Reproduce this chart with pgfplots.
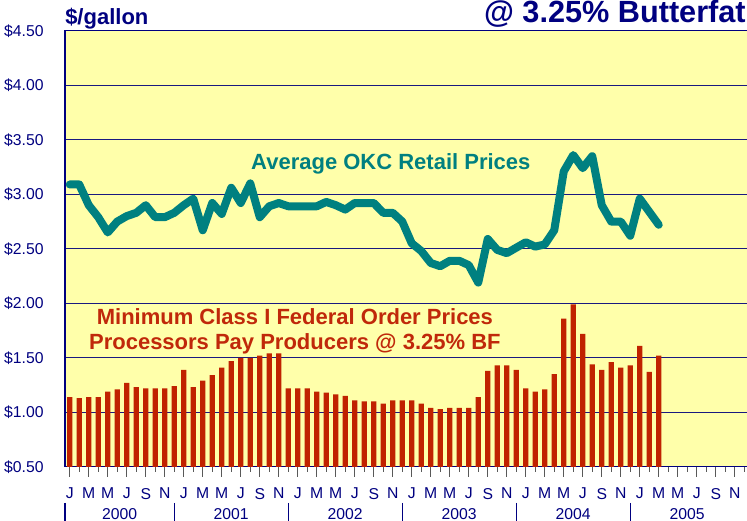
\documentclass[border=0pt]{standalone}
\usepackage{fontspec}
\setmainfont{Liberation Sans}
\usepackage{pgfplots}
\usepackage{pgfplotstable}
\pgfplotsset{compat=1.18}
\definecolor{navytxt}{RGB}{0,0,128}
\definecolor{barred}{RGB}{192,34,0}
\definecolor{txtred}{RGB}{192,40,10}
\definecolor{tealline}{RGB}{0,128,128}
\definecolor{bgyel}{RGB}{255,255,170}

\pgfplotstableread{
x y
0 1.14
1 1.13
2 1.14
3 1.14
4 1.19
5 1.21
6 1.27
7 1.23
8 1.22
9 1.22
10 1.22
11 1.24
12 1.39
13 1.23
14 1.29
15 1.34
16 1.41
17 1.47
18 1.50
19 1.50
20 1.52
21 1.54
22 1.54
23 1.22
24 1.22
25 1.22
26 1.19
27 1.18
28 1.165
29 1.15
30 1.11
31 1.10
32 1.10
33 1.08
34 1.11
35 1.11
36 1.11
37 1.08
38 1.04
39 1.03
40 1.04
41 1.04
42 1.04
43 1.14
44 1.38
45 1.43
46 1.43
47 1.39
48 1.22
49 1.19
50 1.21
51 1.35
52 1.86
53 1.99
54 1.72
55 1.44
56 1.39
57 1.46
58 1.41
59 1.43
60 1.61
61 1.37
62 1.52
}\federal

\pgfplotstableread{
x y
0 3.09
1 3.09
2 2.90
3 2.79
4 2.65
5 2.75
6 2.80
7 2.83
8 2.90
9 2.79
10 2.79
11 2.83
12 2.90
13 2.96
14 2.67
15 2.92
16 2.82
17 3.06
18 2.92
19 3.10
20 2.79
21 2.89
22 2.92
23 2.89
24 2.89
25 2.89
26 2.89
27 2.93
28 2.90
29 2.86
30 2.92
31 2.92
32 2.92
33 2.83
34 2.83
35 2.75
36 2.55
37 2.48
38 2.37
39 2.34
40 2.39
41 2.39
42 2.35
43 2.19
44 2.59
45 2.49
46 2.46
47 2.51
48 2.56
49 2.52
50 2.54
51 2.67
52 3.21
53 3.36
54 3.24
55 3.35
56 2.90
57 2.75
58 2.75
59 2.62
60 2.96
61 2.84
62 2.72
}\retail

\begin{document}
\begin{tikzpicture}
\begin{axis}[
  scale only axis, width=513pt, height=327pt,
  xmin=-0.5, xmax=71.5, ymin=0.5, ymax=4.5,
  clip mode=individual,
  axis background/.style={fill=bgyel},
  axis line style={navytxt, line width=0.9pt},
  ytick={0.5,1.0,1.5,2.0,2.5,3.0,3.5,4.0,4.5},
  yticklabels={\$0.50,\$1.00,\$1.50,\$2.00,\$2.50,\$3.00,\$3.50,\$4.00,\$4.50},
  ymajorgrids,
  grid style={navytxt!80!gray, line width=0.6pt},
  xtick={0,2,...,70},
  xticklabels={J,M,M,J,S,N,J,M,M,J,S,N,J,M,M,J,S,N,J,M,M,J,S,N,J,M,M,J,S,N,J,M,M,J,S,N},
  minor xtick={1,3,...,71},
  xtick pos=bottom, ytick pos=left,
  tick align=outside,
  major tick length=7.5pt, minor tick length=3.75pt,
  every tick/.style={black!65, line width=0.8pt},
  ytick style={draw=none},
  tick label style={font=\fontsize{11.8}{13}\selectfont, text=navytxt},
  xticklabel style={yshift=-5pt},
  yticklabel style={xshift=-5pt},
  /pgf/number format/assume math mode=true,
]
\addplot[ybar, bar width=0.55, fill=barred, draw=none] table[x=x,y=y]{\federal};
\addplot[tealline, line width=6pt, line join=round, line cap=round] table[x=x,y=y]{\retail};

\coordinate (O) at (rel axis cs:0,0);
\coordinate (T) at (rel axis cs:1,1);

\node[tealline, anchor=base, inner sep=0pt, font=\bfseries\fontsize{16.5}{18}\selectfont] at (axis cs:33.8,3.223) {Average OKC Retail Prices};
\node[txtred, anchor=base, inner sep=0pt, font=\bfseries\fontsize{16.5}{18}\selectfont] at (axis cs:23.7,1.801) {Minimum Class I Federal Order Prices};
\node[txtred, anchor=base, inner sep=0pt, font=\bfseries\fontsize{16.5}{18}\selectfont] at (axis cs:23.7,1.572) {Processors Pay Producers @ 3.25\% BF};

\pgfplotsinvokeforeach{-0.5,11,23,35,47,59}{
  \draw[navytxt, line width=0.8pt] ([yshift=-27.15pt]axis cs:#1,0.5) -- ([yshift=-40.65pt]axis cs:#1,0.5);
}
\node[navytxt, anchor=base, inner sep=0pt, font=\fontsize{11.8}{13}\selectfont] at ([yshift=-39.2pt]axis cs:5.25,0.5) {2000};
\node[navytxt, anchor=base, inner sep=0pt, font=\fontsize{11.8}{13}\selectfont] at ([yshift=-39.2pt]axis cs:17,0.5) {2001};
\node[navytxt, anchor=base, inner sep=0pt, font=\fontsize{11.8}{13}\selectfont] at ([yshift=-39.2pt]axis cs:29,0.5) {2002};
\node[navytxt, anchor=base, inner sep=0pt, font=\fontsize{11.8}{13}\selectfont] at ([yshift=-39.2pt]axis cs:41,0.5) {2003};
\node[navytxt, anchor=base, inner sep=0pt, font=\fontsize{11.8}{13}\selectfont] at ([yshift=-39.2pt]axis cs:53,0.5) {2004};
\node[navytxt, anchor=base, inner sep=0pt, font=\fontsize{11.8}{13}\selectfont] at ([yshift=-39.2pt]axis cs:65,0.5) {2005};
\end{axis}
\node[navytxt, anchor=base west, inner sep=0pt, font=\bfseries\fontsize{16.5}{18}\selectfont] at ([yshift=5.1pt]O |- T) {\$/gallon};
\node[navytxt, anchor=base east, inner sep=0pt, font=\bfseries\fontsize{23}{26}\selectfont] at ([xshift=-2.25pt, yshift=6.4pt]T) {@ 3.25\% Butterfat};
\pgfresetboundingbox
\path[use as bounding box] ([xshift=-48.75pt,yshift=-40.65pt]O) rectangle ([xshift=511.5pt,yshift=350.1pt]O);
\end{tikzpicture}
\end{document}
